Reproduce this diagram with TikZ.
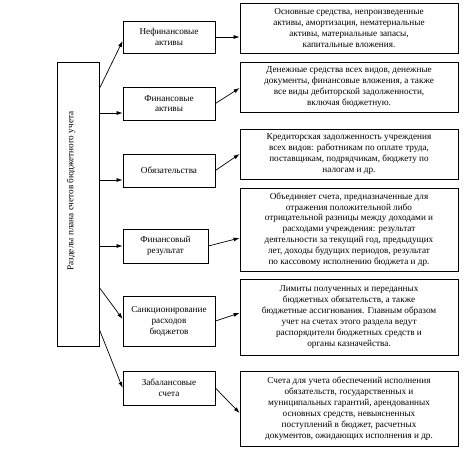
\documentclass[tikz,border=0pt]{standalone}
\usepackage{fontspec}
\setmainfont{Liberation Serif}
\usetikzlibrary{arrows.meta}
\begin{document}
\begin{tikzpicture}[x=1pt,y=-1pt,
  box/.style={draw,line width=0.8pt,inner sep=0pt,align=center,
    font=\fontsize{9.2}{10.9}\selectfont},
  arr/.style={line width=0.7pt,-{Latex[length=6pt,width=4pt]}}]
\useasboundingbox (0,0) rectangle (474,451);
% left box
\node[box,minimum width=42pt,minimum height=284pt] (L) at (78,204) {};
\node[rotate=90,font=\fontsize{9.2}{10.9}\selectfont,inner sep=0pt] (Lt) at (71,191) {Разделы плана счетов бюджетного учета};
% middle boxes
\node[box,minimum width=92pt,minimum height=32pt] (m1) at (169,37) {Нефинансовые\\активы};
\node[box,minimum width=92pt,minimum height=33pt] (m2) at (169,103.5) {Финансовые\\активы};
\node[box,minimum width=92pt,minimum height=33pt] (m3) at (169,170.5) {Обязательства};
\node[box,minimum width=85pt,minimum height=34pt] (m4) at (165.5,246) {Финансовый\\результат};
\node[box,minimum width=92pt,minimum height=50pt] (m5) at (169,321) {Санкционирование\\расходов\\бюджетов};
\node[box,minimum width=92pt,minimum height=34pt] (m6) at (169,388) {Забалансовые\\счета};
% right boxes
\node[box,minimum width=218pt,minimum height=50pt] (r1) at (349,28) {Основные средства, непроизведенные\\активы, амортизация, нематериальные\\активы, материальные запасы,\\капитальные вложения.};
\node[box,minimum width=218pt,minimum height=50pt] (r2) at (349,87) {Денежные средства всех видов, денежные\\документы, финансовые вложения, а также\\все виды дебиторской задолженности,\\включая бюджетную.};
\node[box,minimum width=218pt,minimum height=50pt] (r3) at (349,154) {Кредиторская задолженность учреждения\\всех видов: работникам по оплате труда,\\поставщикам, подрядчикам, бюджету по\\налогам и др.};
\node[box,minimum width=218pt,minimum height=83pt] (r4) at (349,229.5) {Объединяет счета, предназначенные для\\отражения положительной либо\\отрицательной разницы между доходами и\\расходами учреждения: результат\\деятельности за текущий год, предыдущих\\лет, доходы будущих периодов, результат\\по кассовому исполнению бюджета и др.};
\node[box,minimum width=218pt,minimum height=76pt] (r5) at (349,317) {Лимиты полученных и переданных\\бюджетных обязательств, а также\\бюджетные ассигнования. Главным образом\\учет на счетах этого раздела ведут\\распорядители бюджетных средств и\\органы казначейства.};
\node[box,minimum width=218pt,minimum height=75pt] (r6) at (349,408.5) {Счета для учета обеспечений исполнения\\обязательств, государственных и\\муниципальных гарантий, арендованных\\основных средств, невыясненных\\поступлений в бюджет, расчетных\\документов, ожидающих исполнения и др.};
% arrow end points
\coordinate (t2) at ([yshift=-9.5pt]m2.west);
\coordinate (t3) at ([yshift=-9.5pt]m3.west);
% arrows left -> middle
\draw[arr] ([yshift=-27pt]L.north east) -- ([yshift=-4pt]m1.west);
\draw[arr] (L.east |- t2) -- (t2);
\draw[arr] (L.east |- t3) -- (t3);
\draw[arr] (L.east |- m4.west) -- (m4.west);
\draw[arr] ([yshift=-226pt]L.north east) -- ([yshift=2pt]m5.west);
\draw[arr] ([yshift=-268pt]L.north east) -- (m6.west);
% arrows middle -> right
\draw[arr] (m1.east) -- (r1.west |- m1.east);
\draw[arr] (m2.east) -- ([yshift=-1pt]r2.west);
\draw[arr] (m3.east) -- (r3.west);
\draw[arr] (m4.east) -- ([yshift=-8.5pt]r4.west);
\draw[arr] (m5.east) -- ([yshift=4pt]r5.west);
\draw[arr] (m6.east) -- ([yshift=-4.5pt]r6.west);
\end{tikzpicture}
\end{document}
